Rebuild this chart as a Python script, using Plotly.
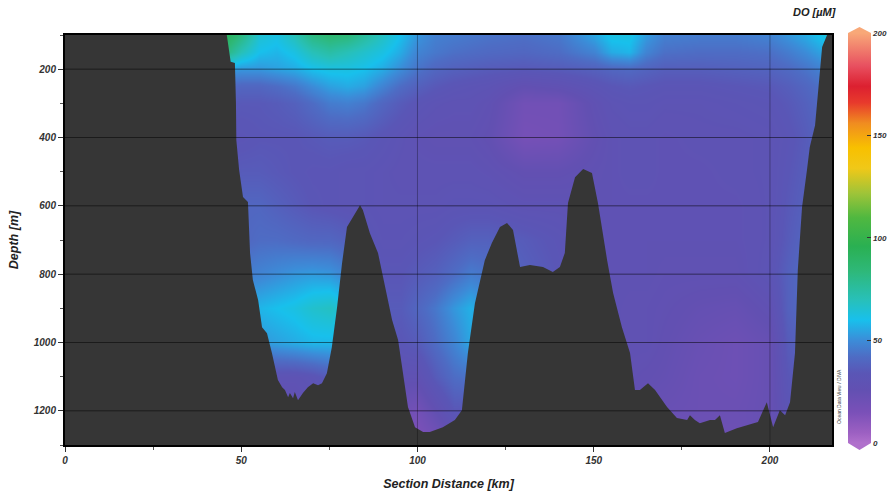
import plotly.graph_objects as go

# ---------------- data ----------------
dist_km = [40, 45, 50, 55, 60, 65, 70, 75, 80, 85, 90, 95, 100, 105, 110, 115, 120,
           130, 140, 150, 155, 160, 165, 170, 180, 190, 200, 205, 210, 215, 220]
depth_m = [100, 150, 200, 250, 300, 400, 500, 600, 700, 800, 900, 1000, 1100, 1200, 1300]

do_100 = [95, 95, 82, 65, 62, 70, 82, 86, 84, 76, 68, 60, 52, 47, 46, 45, 44, 43, 45, 55, 62, 62, 53, 47, 46, 46, 48, 52, 56, 62, 62]
do_150 = [85, 85, 70, 60, 58, 62, 70, 74, 70, 66, 62, 56, 48, 45, 43, 42, 41, 40, 42, 48, 56, 58, 48, 43, 42, 42, 43, 46, 50, 55, 55]
do_200 = [55, 55, 52, 52, 54, 56, 60, 62, 62, 60, 56, 50, 44, 40, 38, 37, 36, 35, 36, 38, 40, 41, 39, 37, 37, 38, 39, 41, 44, 48, 48]
do_250 = [42, 42, 40, 40, 42, 45, 50, 54, 56, 54, 48, 42, 38, 35, 33, 32, 31, 26, 28, 32, 34, 35, 34, 33, 33, 34, 35, 37, 40, 44, 44]
do_300 = [36, 36, 35, 35, 36, 38, 42, 46, 47, 45, 40, 36, 33, 31, 30, 30, 28, 19, 19, 28, 31, 32, 32, 31, 31, 32, 33, 35, 38, 42, 42]
do_400 = [33, 33, 33, 34, 34, 34, 35, 36, 36, 35, 33, 31, 29, 28, 28, 28, 26, 17, 18, 26, 29, 30, 30, 29, 30, 30, 31, 33, 36, 40, 40]
do_500 = [35, 35, 36, 36, 35, 34, 33, 33, 32, 32, 31, 30, 30, 30, 30, 30, 29, 26, 26, 28, 29, 30, 30, 29, 29, 30, 31, 34, 37, 40, 40]
do_600 = [40, 40, 40, 40, 38, 36, 34, 33, 32, 32, 31, 31, 31, 31, 32, 32, 32, 30, 30, 29, 29, 29, 29, 29, 29, 29, 31, 35, 38, 40, 40]
do_700 = [40, 40, 40, 42, 42, 41, 40, 40, 38, 34, 32, 32, 33, 34, 36, 38, 38, 36, 33, 30, 29, 29, 29, 29, 29, 29, 31, 36, 40, 40, 40]
do_800 = [45, 45, 46, 48, 50, 52, 53, 52, 48, 38, 34, 34, 36, 38, 42, 46, 44, 38, 34, 30, 29, 29, 29, 28, 28, 28, 32, 38, 42, 42, 42]
do_900 = [56, 56, 57, 58, 60, 62, 66, 68, 62, 45, 36, 36, 40, 45, 52, 57, 52, 40, 34, 30, 29, 28, 28, 27, 25, 24, 28, 38, 42, 42, 42]
do_1000 = [52, 52, 52, 52, 54, 56, 58, 58, 55, 44, 36, 34, 36, 42, 48, 55, 50, 40, 34, 30, 29, 28, 28, 26, 23, 21, 24, 36, 40, 40, 40]
do_1100 = [30, 30, 30, 30, 30, 30, 32, 36, 38, 36, 32, 28, 28, 36, 42, 44, 42, 36, 32, 29, 28, 27, 26, 25, 22, 21, 24, 34, 38, 38, 38]
do_1200 = [26, 26, 26, 26, 26, 26, 28, 30, 32, 30, 26, 20, 18, 26, 34, 34, 32, 30, 28, 27, 26, 25, 24, 23, 22, 22, 24, 32, 36, 36, 36]
do_1300 = [22, 22, 22, 22, 22, 22, 24, 26, 28, 26, 22, 15, 12, 16, 24, 28, 30, 28, 26, 25, 24, 23, 22, 22, 21, 21, 25, 30, 34, 34, 34]

do_grid = [do_100, do_150, do_200, do_250, do_300, do_400, do_500, do_600, do_700,
           do_800, do_900, do_1000, do_1100, do_1200, do_1300]

# seafloor / section boundary (km, m)
bathy_km = [45.9, 47.0, 48.2, 48.5, 48.6, 49.4, 50.5, 51.9, 52.5, 53.3, 54.8, 55.9, 57.3, 58.7,
            60.4, 61.6, 62.4, 63.3, 63.8, 64.7, 65.2, 66.1, 67.5, 68.9, 70.4, 71.8, 72.9, 74.3,
            75.7, 77.2, 78.6, 80.0, 81.7, 83.7, 84.5, 86.5, 88.8, 90.8, 92.8, 94.5, 95.9, 97.3,
            99.3, 101.6, 103.5, 107.2, 110.6, 112.6, 114.3, 116.3, 119.1, 121.1, 123.4, 125.4,
            127.1, 129.1, 131.9, 135.6, 138.4, 140.4, 141.8, 142.7, 144.7, 147.0, 149.5, 151.2,
            153.8, 155.5, 158.0, 160.3, 161.7, 163.1, 165.4, 167.4, 170.8, 173.6, 176.5, 177.3,
            178.7, 180.1, 183.0, 184.4, 185.8, 187.2, 190.6, 193.5, 196.6, 199.1, 200.9, 202.8,
            204.3, 205.7, 207.1, 207.9, 209.1, 210.5, 211.3, 212.8, 214.2, 214.8, 216.2]
bathy_depth = [100, 178, 182, 300, 407, 495, 574, 589, 738, 817, 876, 955, 973, 1031,
               1110, 1131, 1139, 1160, 1148, 1163, 1145, 1169, 1148, 1131, 1119, 1125, 1119, 1090,
               1014, 896, 768, 662, 633, 598, 612, 680, 738, 838, 934, 993, 1090, 1189,
               1248, 1262, 1262, 1248, 1227, 1198, 1031, 885, 759, 709, 662, 650,
               671, 779, 773, 779, 794, 779, 738, 592, 516, 492, 504, 592,
               759, 855, 955, 1031, 1139, 1139, 1119, 1139, 1189, 1221, 1227, 1213,
               1227, 1236, 1227, 1227, 1213, 1265, 1251, 1242, 1233, 1175, 1248, 1198,
               1213, 1175, 1031, 788, 604, 495, 428, 364, 202, 135, 100]

x_ticks = [0, 50, 100, 150, 200]
y_ticks = [200, 400, 600, 800, 1000, 1200]
cbar_ticks = [0, 50, 100, 150, 200]
x_range = [0, 217.6]
y_range = [1300, 100]

# ---------------- style ----------------
FONT = "Liberation Sans"
TERRAIN = "#363636"
colorscale = [
    [0.000, "#b070cc"], [0.025, "#9c60c2"], [0.075, "#7a50b8"], [0.130, "#6250b2"],
    [0.170, "#5a56b6"], [0.210, "#4e6cc4"], [0.250, "#3c8cd8"], [0.300, "#18c0ec"],
    [0.350, "#28c0b8"], [0.420, "#2eb878"], [0.480, "#2ab052"], [0.550, "#50b840"],
    [0.610, "#a0c438"], [0.670, "#f0c818"], [0.720, "#f8c000"], [0.780, "#f08c20"],
    [0.830, "#e83a2c"], [0.870, "#dc2030"], [0.920, "#e85060"], [1.000, "#f8a878"],
]

fig = go.Figure()

fig.add_trace(go.Heatmap(
    x=dist_km, y=depth_m, z=do_grid, zmin=0, zmax=200, zsmooth="best",
    colorscale=colorscale, hoverinfo="skip",
    colorbar=dict(
        x=1.0209, xanchor="left", y=1.0049, yanchor="top",
        len=410, lenmode="pixels", thickness=23, thicknessmode="pixels",
        xpad=0, ypad=0, outlinewidth=0,
        tickvals=cbar_ticks, ticks="inside", ticklen=4, tickcolor="#333",
        tickfont=dict(family=FONT, size=8, color="#333", style="italic", weight="bold"),
    ),
))

poly_x = [x_range[0]] + bathy_km + [x_range[1], x_range[1], x_range[0]]
poly_y = [y_range[1]] + bathy_depth + [y_range[1], y_range[0], y_range[0]]
fig.add_trace(go.Scatter(
    x=poly_x, y=poly_y, mode="lines", fill="toself", fillcolor=TERRAIN,
    line=dict(width=0, color=TERRAIN), hoverinfo="skip", showlegend=False,
))

shapes = []
for yv in y_ticks:
    shapes.append(dict(type="line", xref="paper", yref="y", x0=0, x1=1, y0=yv, y1=yv,
                       line=dict(color="rgba(0,0,0,0.5)", width=1), layer="above"))
for xv in [100, 200]:
    shapes.append(dict(type="line", xref="x", yref="paper", x0=xv, x1=xv, y0=0, y1=1,
                       line=dict(color="rgba(0,0,0,0.3)", width=1), layer="above"))
# colorbar end arrows
px2x = lambda p: (p - 65) / 767.0
py2y = lambda p: (445 - p) / 410.0
shapes.append(dict(type="path", xref="paper", yref="paper",
                   path=f"M {px2x(848)} {py2y(33)} L {px2x(871)} {py2y(33)} L {px2x(859.5)} {py2y(27)} Z",
                   fillcolor="#f8a878", line=dict(width=0)))
shapes.append(dict(type="path", xref="paper", yref="paper",
                   path=f"M {px2x(848)} {py2y(443)} L {px2x(871)} {py2y(443)} L {px2x(859.5)} {py2y(450)} Z",
                   fillcolor="#b070cc", line=dict(width=0)))

axis_font = dict(family=FONT, size=10, color="#333", style="italic", weight="bold")
title_font = dict(family=FONT, size=12.5, color="#222", style="italic", weight="bold")

fig.update_layout(
    width=888, height=496,
    margin=dict(l=65, r=56, t=35, b=51, autoexpand=False),
    paper_bgcolor="white", plot_bgcolor=TERRAIN,
    showlegend=False,
    shapes=shapes,
    xaxis=dict(range=x_range, tickvals=x_ticks, ticks="outside", ticklen=5, tickcolor="#333",
               showgrid=False, zeroline=False, showline=True, linecolor="black", linewidth=2,
               mirror=True, tickfont=axis_font, automargin=False,
               minor=dict(dtick=25, tick0=0, ticks="outside", ticklen=3, tickcolor="#555", showgrid=False),
               title=dict(text="Section Distance [km]", font=title_font, standoff=14)),
    yaxis=dict(range=y_range, tickvals=y_ticks, ticks="outside", ticklen=5, tickcolor="#333",
               showgrid=False, zeroline=False, showline=True, linecolor="black", linewidth=2,
               mirror=True, tickfont=axis_font, automargin=False,
               minor=dict(dtick=100, tick0=0, ticks="outside", ticklen=3, tickcolor="#555", showgrid=False),
               title=dict(text="Depth [m]", font=title_font, standoff=12)),
    annotations=[
        dict(text="DO [µM]", xref="paper", yref="paper", x=px2x(838), y=py2y(12),
             xanchor="right", yanchor="middle", showarrow=False,
             font=dict(family=FONT, size=11, color="#222", style="italic", weight="bold")),
        dict(text="Ocean Data View / DIVA", xref="paper", yref="paper", x=px2x(839), y=py2y(396),
             xanchor="center", yanchor="middle", textangle=-90, showarrow=False,
             font=dict(family=FONT, size=5, color="#444")),
    ],
)

fig.write_html("out.html", config={"displayModeBar": False},
               post_script="document.body.style.margin='0';")
